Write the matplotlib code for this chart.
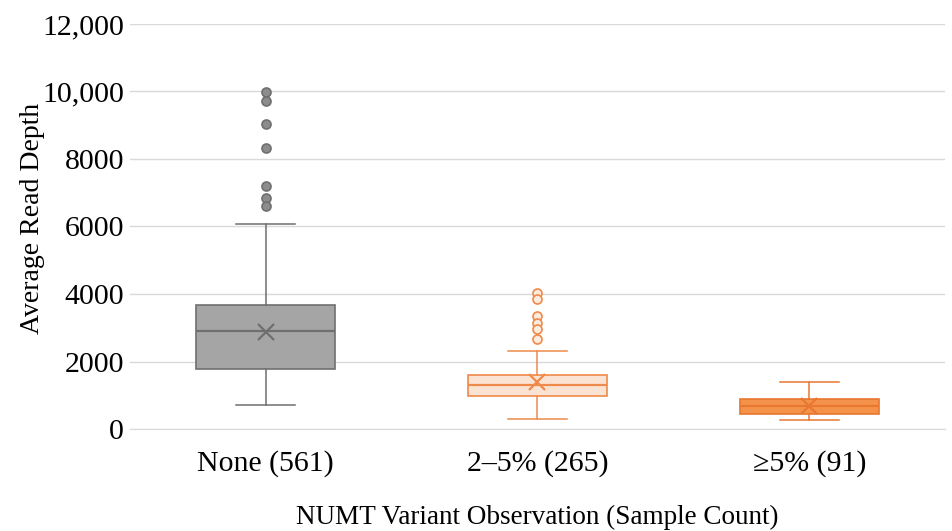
import matplotlib
matplotlib.use("Agg")
import matplotlib.pyplot as plt
import numpy as np

categories = ["None (561)", "2\u20135% (265)", "\u22655% (91)"]
q1 = [1785, 975, 445]
median = [2890, 1290, 670]
q3 = [3660, 1600, 890]
whisker_low = [700, 305, 265]
whisker_high = [6065, 2325, 1380]
means = [2880, 1380, 690]
outliers = [
    [9970, 9710, 9030, 8320, 7210, 6850, 6620],
    [4020, 3860, 3350, 3150, 2950, 2670],
    [],
]
y_ticks = [0, 2000, 4000, 6000, 8000, 10000, 12000]
y_tick_labels = ["0", "2000", "4000", "6000", "8000", "10,000", "12,000"]

fills = ["#A5A5A5", "#FBE3D3", "#F4924C"]
edges = ["#6F6F6F", "#EE8A4A", "#E8772F"]
flier_face = ["#8C8C8C", "#FDEBDD", "#F4924C"]
flier_edge = ["#6F6F6F", "#EE8A4A", "#E8772F"]

plt.rcParams["font.family"] = ["Liberation Serif", "DejaVu Serif"]

fig = plt.figure(figsize=(9.53, 5.31), dpi=100)
ax = fig.add_axes([0.136, 0.192, 0.856, 0.763])

for i in range(len(categories)):
    stats = [dict(med=median[i], q1=q1[i], q3=q3[i], whislo=whisker_low[i],
                  whishi=whisker_high[i], mean=means[i], fliers=outliers[i],
                  label=categories[i])]
    ax.bxp(stats, positions=[i], widths=0.51, patch_artist=True, showmeans=True,
           boxprops=dict(facecolor=fills[i], edgecolor=edges[i], linewidth=1.2),
           medianprops=dict(color=edges[i], linewidth=1.6),
           whiskerprops=dict(color=edges[i], linewidth=1.1),
           capprops=dict(color=edges[i], linewidth=1.1),
           capwidths=0.22,
           meanprops=dict(marker="x", markersize=11, markeredgewidth=1.6,
                          markeredgecolor=edges[i]),
           flierprops=dict(marker="o", markersize=6.5, markerfacecolor=flier_face[i],
                           markeredgecolor=flier_edge[i], markeredgewidth=1.2),
           zorder=3)

ax.set_xlim(-0.5, 2.5)
ax.set_ylim(0, 12000)
ax.set_yticks(y_ticks)
ax.set_yticklabels(y_tick_labels, fontsize=21.5)
ax.set_xticks(range(len(categories)))
ax.set_xticklabels(categories, fontsize=21.5)
ax.grid(axis="y", color="#D9D9D9", linewidth=1.0, zorder=0)
ax.set_axisbelow(True)
for s in ["top", "right", "left"]:
    ax.spines[s].set_visible(False)
ax.spines["bottom"].set_color("#D9D9D9")
ax.tick_params(axis="y", length=0, pad=4)
ax.tick_params(axis="x", length=0, pad=15)
ax.set_ylabel("Average Read Depth", fontsize=20, labelpad=2)
ax.yaxis.set_label_coords(-0.104, 0.52)
ax.set_xlabel("NUMT Variant Observation (Sample Count)", fontsize=19.5, labelpad=20)

fig.savefig("out.png", dpi=100)
